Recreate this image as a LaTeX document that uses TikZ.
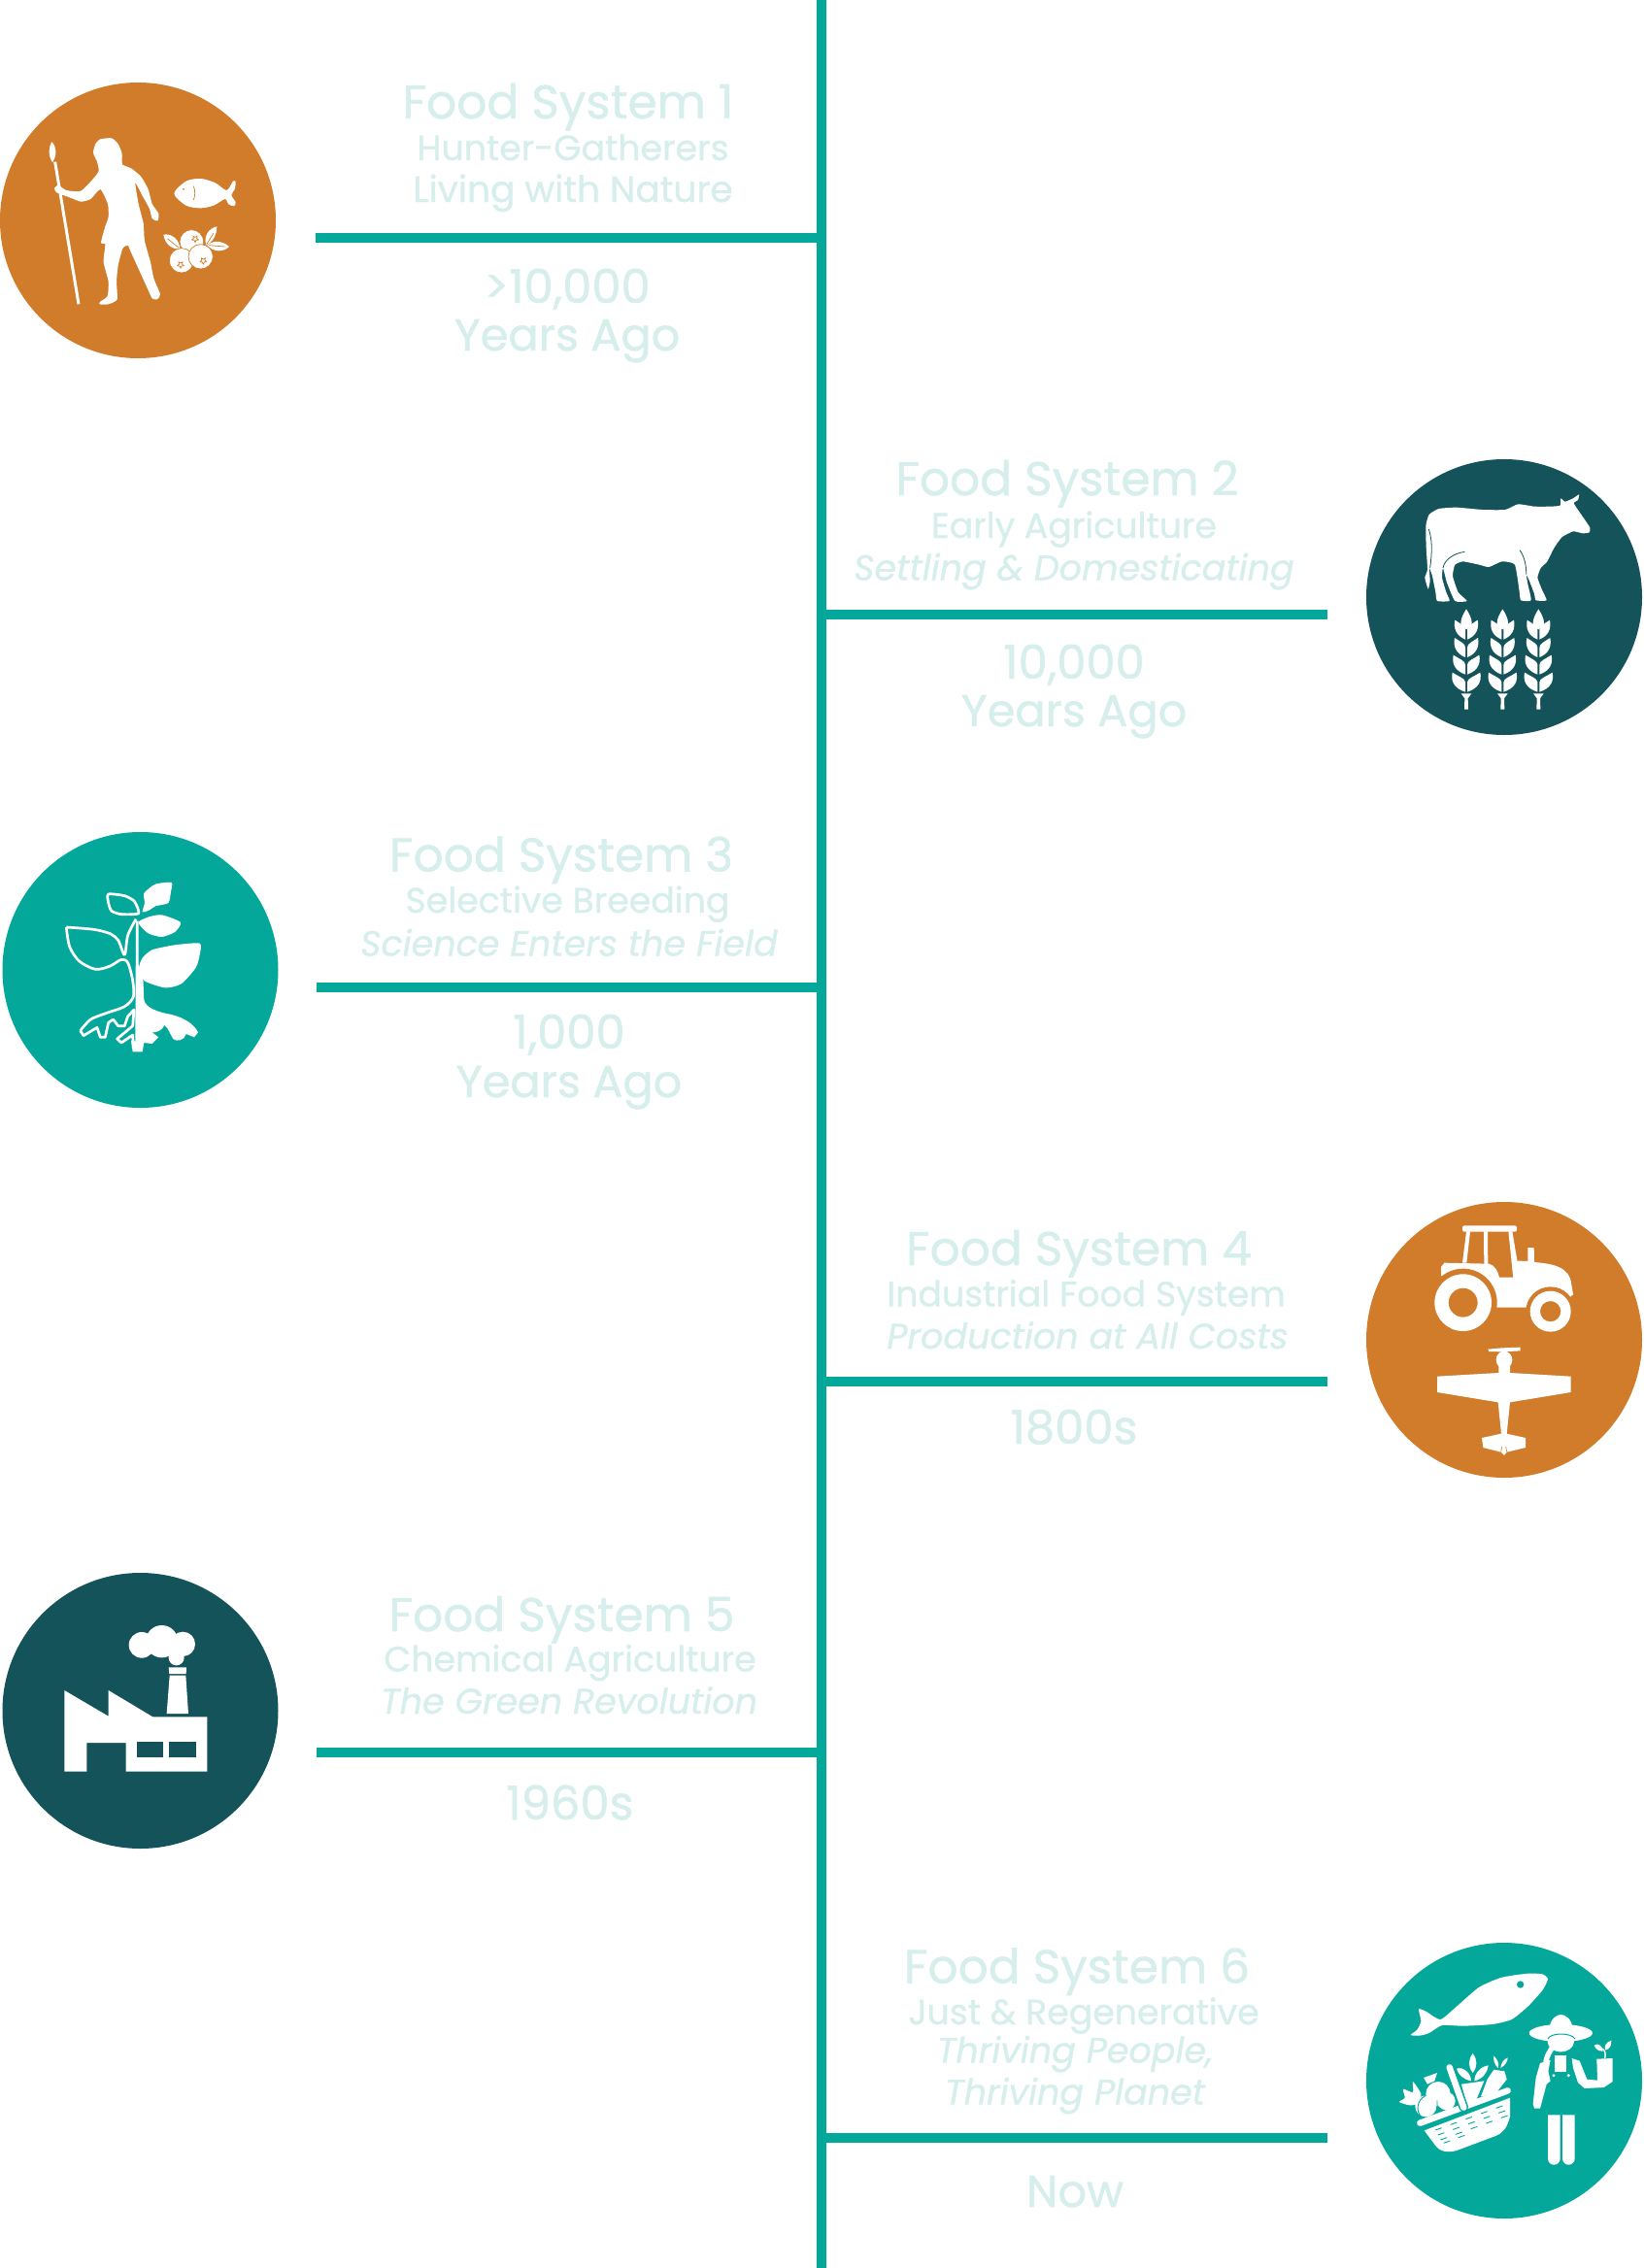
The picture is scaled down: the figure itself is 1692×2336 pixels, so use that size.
\documentclass[tikz,border=0pt]{standalone}
\usepackage{xcolor}
\usepackage{fontspec}
\setmainfont{Poppins}[FakeBold=1]
\usetikzlibrary{positioning}
\definecolor{ochre}{HTML}{D17C2B}
\definecolor{deepteal}{HTML}{14535A}
\definecolor{brightteal}{HTML}{03A89B}
\definecolor{paleteal}{HTML}{D6EEEC}
\newcommand{\berrystar}[2]{\draw[ochre, line width=.7pt, line join=round] (#1,#2) +(90:11) -- +(126:5) -- +(162:11) -- +(198:5) -- +(234:11) -- +(270:5) -- +(306:11) -- +(342:5) -- +(18:11) -- +(54:5) -- cycle;}
\newcommand{\wheatear}[1]{
  \begin{scope}[shift={(#1,0)}]
    \fill[white] (0,472) .. controls (8,485) and (17,500) .. (17,515) .. controls (17,525) and (8,532) .. (0,535) .. controls (-8,532) and (-17,525) .. (-17,515) .. controls (-17,500) and (-8,485) .. (0,472) -- cycle;
    \foreach \yb/\wd in {566/37,621/38,674/42,728/45}{
      \fill[white] (3,\yb) .. controls (\wd-5,\yb-12) and (\wd+3,\yb-35) .. (\wd-2,\yb-60) .. controls (\wd-20,\yb-48) and (3,\yb-42) .. (3,\yb-30) -- cycle;
      \fill[white] (-3,\yb) .. controls (-\wd+5,\yb-12) and (-\wd-3,\yb-35) .. (-\wd+2,\yb-60) .. controls (-\wd+20,\yb-48) and (-3,\yb-42) .. (-3,\yb-30) -- cycle;
    }
    \fill[white] (-16,733) -- (16,733) -- (5,748) -- (6,782) -- (-6,782) -- (-5,748) -- cycle;
  \end{scope}
}
\begin{document}
\begin{tikzpicture}[
    x=1pt, y=-1pt,
    disc/.style={circle, inner sep=0pt, minimum size=284pt},
    trunk/.style={draw=brightteal, line width=10pt},
    lbl/.style={text=paleteal, anchor=base, inner sep=0pt},
    sysname/.style={lbl, font=\fontsize{48.7}{48.7}\selectfont},
    sysera/.style={lbl, font=\fontsize{36.3}{36.3}\selectfont},
    systag/.style={lbl, font=\fontsize{37.5}{37.5}\selectfont},
    systagit/.style={lbl, font=\fontsize{36.5}{36.5}\selectfont\itshape},
    sysdate/.style={lbl, font=\fontsize{46.2}{46.2}\selectfont},
    sysyear/.style={lbl, font=\fontsize{48}{48}\selectfont},
    iconat/.style={shift={#1}, scale=1/3},
]
\useasboundingbox (0,0) rectangle (1692,2336);
\coordinate (spinetop) at (846,0);
\coordinate (spinebot) at (846,2336);
\draw[trunk] (spinetop) -- (spinebot);
% rungs off the spine
\coordinate (rung1) at (325,245);   \coordinate (join1) at (846,245);
\coordinate (rung2) at (1367,632.5);\coordinate (join2) at (846,632.5);
\coordinate (rung3) at (326,1016.5);\coordinate (join3) at (846,1016.5);
\coordinate (rung4) at (1367,1422.5);\coordinate (join4) at (846,1422.5);
\coordinate (rung5) at (326,1804.5);\coordinate (join5) at (846,1804.5);
\coordinate (rung6) at (1367,2202); \coordinate (join6) at (846,2202);
\foreach \i in {1,...,6}{\draw[trunk] (rung\i) -- (join\i);}

\node[disc, fill=ochre] (hunter) at (142,227) {};
\node[disc, fill=deepteal] (cow) at (1549,615) {};
\node[disc, fill=brightteal] (plant) at (144.5,999) {};
\node[disc, fill=ochre] (tractor) at (1549,1380) {};
\node[disc, fill=deepteal] (factory) at (144.5,1762) {};
\node[disc, fill=brightteal] (farmer) at (1549,2143) {};

% labels
\node[sysname] (name1) at (585,122) {Food System 1};
\node[sysera] (era1) at (590,165) {Hunter-Gatherers};
\node[systag] (tag1) at (590,208) {Living with Nature};
\node[sysyear] (date1) at (584,312) {>10,000};
\node[sysdate] (ago1) at (584,361) {Years Ago};
\node[sysname] (name2) at (1099,510) {Food System 2};
\node[sysera] (era2) at (1106,554) {Early Agriculture};
\node[systagit] (tag2) at (1106,597.5) {Settling \& Domesticating};
\node[sysyear] (date2) at (1106,699) {10,000};
\node[sysdate] (ago2) at (1106,748) {Years Ago};
\node[sysname] (name3) at (578,897.5) {Food System 3};
\node[sysera] (era3) at (584.5,940) {Selective Breeding};
\node[systagit] (tag3) at (586,984.5) {Science Enters the Field};
\node[sysyear] (date3) at (586,1080) {1,000};
\node[sysdate] (ago3) at (586,1130) {Years Ago};
\node[sysname] (name4) at (1111,1303) {Food System 4};
\node[sysera] (era4) at (1118.5,1345.5) {Industrial Food System};
\node[systagit] (tag4) at (1120,1389) {Production at All Costs};
\node[sysyear] (date4) at (1106,1487) {1800s};
\node[sysname] (name5) at (578.5,1680) {Food System 5};
\node[sysera] (era5) at (587,1721.5) {Chemical Agriculture};
\node[systagit] (tag5) at (586,1765) {The Green Revolution};
\node[sysyear] (date5) at (587,1874) {1960s};
\node[sysname] (name6) at (1109,2042.5) {Food System 6};
\node[sysera] (era6) at (1116,2085) {Just \& Regenerative};
\node[systagit] (tag6) at (1107,2124.5) {Thriving People,};
\node[systagit] (tagb6) at (1107,2167.5) {Thriving Planet};
\node[sysdate] (date6) at (1107,2273) {Now};

% hunter, fish, berries
\begin{scope}[iconat={(0,70)}]
  \draw[white, line width=3pt] (170,290) -- (243,730);
  \fill[white] (160,228) .. controls (150,245) and (148,270) .. (162,292) .. controls (176,270) and (176,245) .. (160,228) -- cycle;
  \fill[white] plot[smooth cycle, tension=.35] coordinates {(310,220) (345,217) (365,235) (377,265) (378,298) (405,310) (435,335) (458,375) (470,420) (490,450) (487,472) (470,465) (462,435) (440,395) (418,355) (428,420) (443,480) (447,535) (465,600) (475,650) (495,700) (485,715) (470,712) (455,680) (430,625) (405,570) (395,548) (385,552) (378,560) (365,610) (360,660) (362,715) (335,730) (307,730) (310,722) (332,705) (335,660) (320,600) (325,545) (312,540) (325,490) (335,460) (333,420) (310,375) (280,405) (250,413) (215,400) (175,385) (168,372) (180,362) (205,378) (250,380) (290,340) (305,318) (300,290) (288,262) (295,235)};
  \fill[white] plot[smooth cycle, tension=.5] coordinates {(538,388) (575,350) (620,342) (665,355) (700,378) (720,350) (728,352) (725,375) (715,393) (728,415) (722,427) (705,420) (695,405) (660,425) (620,433) (575,425)};
  \fill[ochre] (567,375) circle (3);
  \draw[ochre, line width=.7pt] (598,365) .. controls (604,380) and (603,395) .. (598,408);
  \fill[white] (505,515) .. controls (530,510) and (555,530) .. (556,560) .. controls (530,560) and (510,545) .. (505,515) -- cycle;
  \draw[ochre, line width=.7pt] (518,528) -- (552,555);
  \fill[white] (670,490) .. controls (645,495) and (628,520) .. (637,548) .. controls (660,535) and (670,515) .. (670,490) -- cycle;
  \fill[white] (708,552) .. controls (690,535) and (660,530) .. (640,548) .. controls (660,570) and (690,570) .. (708,552) -- cycle;
  \draw[ochre, line width=.7pt] (660,510) -- (638,545) (695,552) -- (645,548);
  \filldraw[fill=white, draw=ochre, line width=.7pt] (592,537) circle (37);
  \filldraw[fill=white, draw=ochre, line width=.7pt] (561,595) circle (38);
  \filldraw[fill=white, draw=ochre, line width=.7pt] (620,583) circle (38);
  \berrystar{603}{528} \berrystar{558}{608} \berrystar{628}{596}
\end{scope}

% cow and wheat
\begin{scope}[iconat={(1400,470)}]
  \fill[white] plot[smooth cycle, tension=.3] coordinates {(205,215) (215,180) (245,162) (300,158) (380,165) (450,165) (490,148) (540,155) (590,155) (620,152) (622,130) (635,140) (660,130) (678,118) (675,135) (662,145) (685,180) (712,220) (710,235) (690,238) (660,232) (625,250) (600,285) (580,325) (560,345) (550,375) (565,415) (578,445) (545,445) (540,425) (525,385) (515,365) (520,395) (530,445) (498,445) (495,425) (480,335) (440,325) (400,342) (370,335) (320,325) (295,335) (288,370) (305,420) (332,447) (295,447) (270,390) (258,345) (255,375) (268,420) (278,447) (240,447) (235,420) (225,370) (218,350) (215,345) (218,385) (212,410) (202,375) (210,350) (206,280)};
  \draw[deepteal, line width=.8pt] (214,225) .. controls (226,260) and (224,300) .. (218,345);
  \draw[deepteal, line width=.8pt] (325,295) .. controls (290,300) and (262,320) .. (258,345);
  \draw[deepteal, line width=.8pt] (495,290) .. controls (510,310) and (516,340) .. (515,365);
  \wheatear{330} \wheatear{442} \wheatear{553}
\end{scope}

% plant
\begin{scope}[iconat={(0,850)}]
  \fill[white] plot[smooth cycle, tension=.4] coordinates {(530,177) (480,182) (445,210) (447,240) (440,268) (462,262) (480,250) (520,240) (528,205)};
  \fill[white] plot[smooth cycle, tension=.4] coordinates {(460,283) (500,277) (558,300) (540,330) (500,345) (460,335) (437,315) (428,298)};
  \fill[white] plot[smooth cycle, tension=.4] coordinates {(617,365) (540,370) (470,385) (440,410) (430,440) (445,480) (510,502) (560,490) (605,440) (617,400)};
  \fill[white] (420,296) -- (428,296) -- (428,430) -- (442,470) -- (445,540) .. controls (450,565) and (490,578) .. (530,585) .. controls (570,595) and (600,615) .. (612,640) -- (600,655) -- (575,645) .. controls (570,665) and (545,670) .. (535,660) .. controls (525,645) and (520,625) .. (508,618) .. controls (500,635) and (485,640) .. (470,640) -- (490,655) -- (470,675) -- (445,672) -- (440,700) -- (410,700) -- (405,665) -- (418,668) -- cycle;
  \draw[white, line width=2.7pt, line join=round] plot[smooth, tension=.5] coordinates {(420,290) (395,340) (385,400) (365,355) (340,335) (290,322) (205,315)};
  \draw[white, line width=2.7pt, line join=round] plot[smooth, tension=.5] coordinates {(205,315) (215,375) (245,420) (295,445) (340,435) (375,415) (395,425) (410,480) (412,530) (385,560) (330,580) (280,600) (248,635)};
  \draw[white, line width=2.7pt, line join=round] (248,635) -- (258,650) -- (300,625) -- (310,655) -- (325,655) -- (335,610) -- (350,600) -- (365,620) -- (385,620) -- (395,590) -- (414,570) -- (410,620) -- (362,660) -- (375,672) -- (410,648) -- (412,690);
  \draw[white, line width=2.7pt, line join=round] plot[smooth cycle, tension=.4] coordinates {(335,213) (385,218) (415,235) (428,272) (375,275) (345,265) (335,240)};
\end{scope}

% tractor and plane
\begin{scope}[iconat={(1400,1235)}]
  \fill[white, rounded corners=2pt] (318,82) rectangle (486,101);
  \fill[white] (330,100) -- (342,100) -- (331,197) -- (318,197) -- cycle;
  \fill[white] (384,100) -- (396,100) -- (397,205) -- (385,205) -- cycle;
  \fill[white] (460,100) -- (472,100) -- (488,195) -- (475,242) -- cycle;
  \fill[white] (252,237) -- (252,210) -- (262,197) -- (400,200) .. controls (420,205) and (428,225) .. (432,242) -- (475,242) -- (470,190) -- (520,192) -- (520,150) -- (539,150) -- (540,195) .. controls (600,200) and (650,210) .. (655,265) -- (660,295) -- (590,350) -- (515,335) -- (425,335) -- (340,260) -- cycle;
  \fill[ochre] (320,320) circle (105);
  \fill[ochre] (590,347) circle (76);
  \fill[white, even odd rule] (320,320) circle (88) (320,320) circle (45);
  \fill[white, even odd rule] (590,347) circle (63) (590,347) circle (32);
  \fill[white] (397,464) -- (440,460) -- (497,458) -- (497,469) -- (440,472) -- (400,471) -- cycle;
  \fill[white] (447,497) ellipse (25 and 27);
  \fill[white] (240,548) -- (430,537) -- (430,510) -- (465,510) -- (465,537) -- (653,548) -- (653,597) -- (465,628) -- (455,725) -- (513,738) -- (513,768) -- (455,782) -- (447,792) -- (437,782) -- (382,768) -- (378,738) -- (438,725) -- (428,628) -- (240,597) -- cycle;
  \draw[ochre, line width=.6pt] (437,782) -- (440,765) (455,782) -- (452,765);
\end{scope}

% factory
\begin{scope}[iconat={(0,1620)}]
  \fill[white] (199,363) -- (335,443) -- (335,363) -- (472,445) -- (640,445) -- (640,614) -- (389,614) -- (389,525) -- (268,525) -- (268,614) -- (199,614) -- cycle;
  \fill[deepteal] (423,523) rectangle (505,570);
  \fill[deepteal] (523,523) rectangle (606,570);
  \fill[white] (521,292) -- (576,292) -- (575,312) -- (523,312) -- cycle;
  \fill[white] (524,317) -- (574,317) -- (582,435) -- (515,435) -- cycle;
  \fill[white] (438,223) circle (40) (500,212) circle (50) (565,220) circle (38) (545,262) circle (24);
\end{scope}

% fish, basket, farmer
\begin{scope}[iconat={(1400,2000)}]
  \fill[white] plot[smooth cycle, tension=.35] coordinates {(158,288) (178,272) (190,245) (183,208) (205,215) (250,240) (300,200) (370,140) (440,110) (520,98) (565,100) (582,115) (565,150) (520,200) (470,240) (410,255) (320,260) (255,258) (215,282) (185,290)};
  \fill[brightteal] (497,132) circle (11);
  % farmer
  \fill[white] (622,282) ellipse (98 and 27);
  \fill[white] (585,272) .. controls (590,235) and (610,225) .. (622,225) .. controls (635,225) and (655,235) .. (660,272) -- cycle;
  \fill[white] (622,308) ellipse (41 and 32);
  \draw[brightteal, line width=1pt] (582,300) .. controls (590,280) and (655,280) .. (666,300);
  \fill[white] (590,320) .. controls (578,340) and (565,360) .. (568,380) .. controls (572,395) and (580,400) .. (584,402) .. controls (575,380) and (590,350) .. (600,335) -- cycle;
  \fill[white] (558,375) -- (590,365) -- (583,400) -- (590,430) -- (578,440) -- (558,515) -- (540,515) -- (536,500) -- (545,420) -- cycle;
  \fill[white] (603,352) rectangle (640,402);
  \fill[white] (656,360) -- (680,368) -- (703,425) -- (735,428) -- (733,362) -- (782,360) -- (782,432) -- (755,450) -- (695,453) -- (675,435) -- (660,390) -- cycle;
  \fill[white] (600,413) circle (5) (646,413) circle (5);
  \draw[white, line width=1.4pt] (758,360) .. controls (762,345) and (758,335) .. (750,330);
  \fill[white] (725,320) .. controls (735,312) and (750,318) .. (752,338) .. controls (738,338) and (730,332) .. (725,320) -- cycle;
  \fill[white] (778,305) .. controls (760,310) and (755,325) .. (760,335) .. controls (775,330) and (778,320) .. (778,305) -- cycle;
  \fill[white] (582,535) -- (620,535) -- (620,670) arc (0:180:19) -- cycle;
  \fill[white] (627,535) -- (665,535) -- (665,670) arc (0:180:19) -- cycle;
  % produce
  \fill[white] plot[smooth cycle, tension=.4] coordinates {(123,495) (140,482) (135,455) (165,465) (165,432) (190,470) (180,500) (155,505)};
  \fill[white] (205,508) circle (33);
  \fill[white] (243,470) circle (38);
  \fill[white] (198,420) -- (240,405) -- (232,430) -- (210,440) -- cycle;
  \fill[white] (268,492) circle (28);
  \draw[brightteal, line width=.9pt] (205,475) .. controls (175,490) and (175,525) .. (190,540);
  \draw[brightteal, line width=.9pt] (240,490) .. controls (240,510) and (240,520) .. (245,525);
  \fill[white] (350,345) .. controls (335,365) and (335,385) .. (350,405) .. controls (365,385) and (365,365) .. (350,345) -- cycle;
  \fill[white] (300,392) .. controls (320,385) and (345,405) .. (345,430) .. controls (320,425) and (305,410) .. (300,392) -- cycle;
  \fill[white] (398,382) .. controls (375,385) and (355,405) .. (355,430) .. controls (380,425) and (395,405) .. (398,382) -- cycle;
  \fill[white] (315,440) -- (385,430) -- (360,490) -- (330,500) -- cycle;
  \fill[white] (415,395) -- (448,400) -- (455,425) -- (420,470) -- (375,478) -- (395,425) -- cycle;
  \fill[white] (415,352) .. controls (428,365) and (432,380) .. (428,390) .. controls (418,380) and (412,365) .. (415,352) -- cycle;
  \fill[white] (458,358) .. controls (445,362) and (436,378) .. (436,390) .. controls (450,382) and (458,370) .. (458,358) -- cycle;
  % basket
  \fill[white] (200,583) -- (465,482) -- (465,540) .. controls (455,575) and (445,590) .. (420,600) -- (300,645) .. controls (275,652) and (250,650) .. (235,630) -- cycle;
  \draw[brightteal, line width=1.6pt] (195,578) -- (465,477);
  \draw[white, line width=6.5pt, line cap=round] (187,560) -- (458,460);
  \draw[brightteal, line width=9.5pt, line cap=round] (278,388) -- (322,512);
  \draw[white, line width=6.5pt, line cap=round] (278,388) -- (322,512);
  \foreach \r in {0,1,2}{
    \foreach \c in {0,...,4}{
      \draw[brightteal, line width=.9pt] ({234+47*\c+8*\r},{582-17*\c+15*\r}) -- ++(20,-7);
    }
  }
  \draw[brightteal, line width=.9pt] (260,622) -- ++(20,-7) (305,605) -- ++(20,-7);
\end{scope}
\end{tikzpicture}
\end{document}
